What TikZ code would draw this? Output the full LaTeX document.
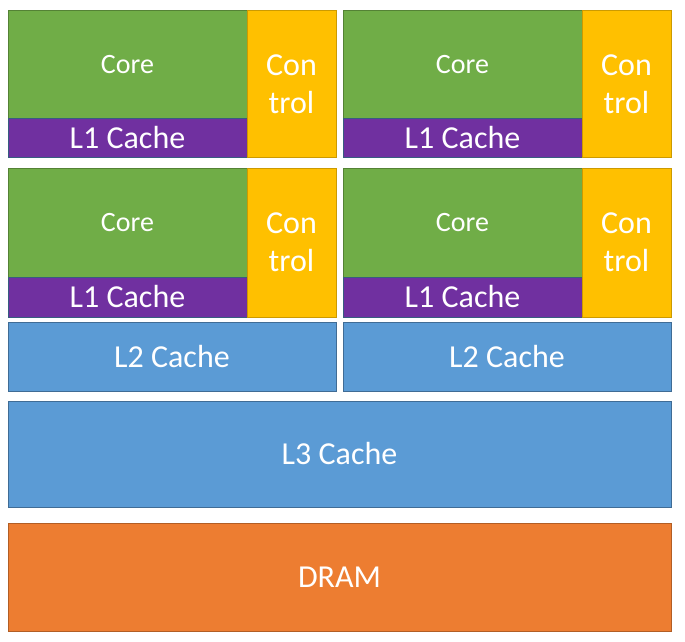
\documentclass[tikz,border=0pt]{standalone}
\usepackage{fontspec}
\setmainfont{Carlito}
\usetikzlibrary{positioning}

\definecolor{coregreen}{HTML}{70AD47}
\definecolor{cachepurple}{HTML}{7030A0}
\definecolor{ctrlgold}{HTML}{FFC000}
\definecolor{cacheblue}{HTML}{5B9BD5}
\definecolor{dramorange}{HTML}{ED7D31}

\tikzset{
  blk/.style={rectangle, draw, line width=1pt, inner sep=0pt, outer sep=0pt,
    anchor=north west, text=white, align=center, font=\fontsize{32}{38}\selectfont},
  corebox/.style={blk, fill=coregreen, draw=coregreen!75!black, font=\fontsize{28}{30}\selectfont},
  lonebox/.style={blk, fill=cachepurple, draw=cacheblue!60!black},
  ctrlbox/.style={blk, fill=ctrlgold, draw=ctrlgold!80!black},
  cachebox/.style={blk, fill=cacheblue, draw=cacheblue!70!black},
  drambox/.style={blk, fill=dramorange, draw=dramorange!75!black}
}

\begin{document}
\begin{tikzpicture}[x=1pt,y=-1pt]
     \useasboundingbox (0,0) rectangle (685,642);

     % vier Kerne mit L1 und Steuerung
     \foreach \n/\x/\y/\ch/\lh/\th in {a/8/11/107/39/146, b/343/11/107/39/146, c/8/168/109/40/149, d/343/168/109/40/149}
     {
       \node[corebox, minimum width=239pt, minimum height=\ch pt] (core\n) at (\x,\y) {Core};
       \node[lonebox, minimum width=239pt, minimum height=\lh pt] (lone\n) at (core\n.south west) {L1 Cache};
       \node[ctrlbox, minimum width=89pt, minimum height=\th pt] (ctrl\n) at (core\n.north east) {Con\\trol};
     }

     % gemeinsame Caches und Speicher
     \node[cachebox, minimum width=328pt, minimum height=69pt] (ltwoa) at (8,322) {L2 Cache};
     \node[cachebox, minimum width=328pt, minimum height=69pt] (ltwob) at (343,322) {L2 Cache};
     \node[cachebox, minimum width=663pt, minimum height=106pt] (lthree) at (8,401) {L3 Cache};
     \node[drambox, minimum width=663pt, minimum height=108pt] (dram) at (8,523) {DRAM};

   \end{tikzpicture}
\end{document}
